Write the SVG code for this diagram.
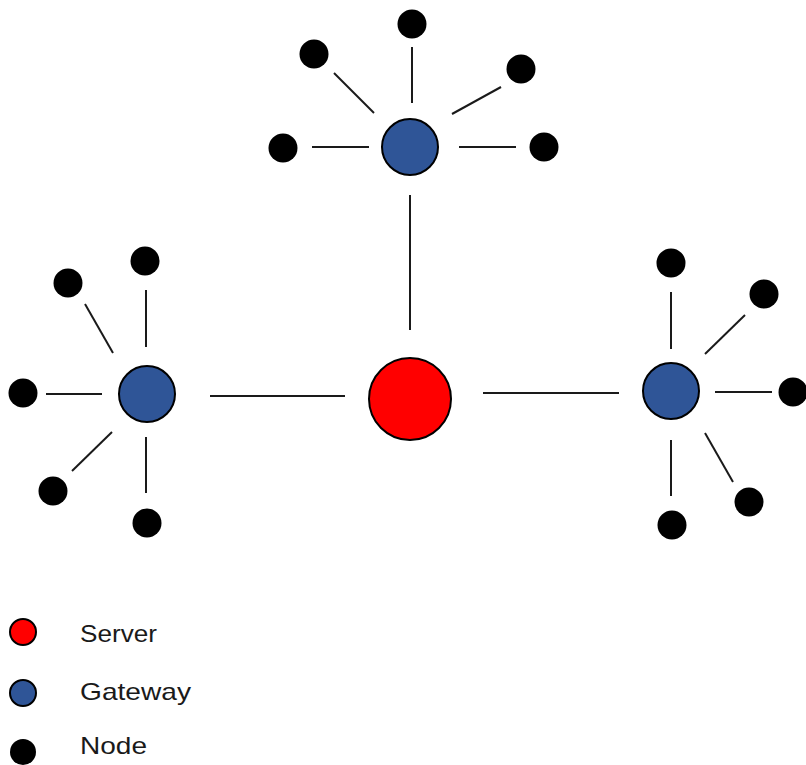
<svg xmlns="http://www.w3.org/2000/svg" width="806" height="765" viewBox="0 0 806 765">
<style>
.ln{stroke:#1a1a1a;stroke-width:2;fill:none}
.srv{fill:#ff0000;stroke:#000;stroke-width:2}
.gw{fill:#2f5597;stroke:#000;stroke-width:2}
.nd{fill:#000}
.lbl{font-family:"Liberation Sans","Open Sans",sans-serif;font-size:24px;fill:#1a1a1a}
</style>
<rect width="806" height="765" fill="#fff"/>
<g id="connectors">
<line class="ln" x1="410" y1="195" x2="410" y2="330"/>
<line class="ln" x1="210" y1="396" x2="345" y2="396"/>
<line class="ln" x1="483" y1="393" x2="619" y2="393"/>
<line class="ln" x1="412" y1="47" x2="412" y2="103"/>
<line class="ln" x1="334" y1="73" x2="374" y2="113"/>
<line class="ln" x1="452" y1="114" x2="501" y2="87"/>
<line class="ln" x1="312" y1="147" x2="369" y2="147"/>
<line class="ln" x1="459" y1="147" x2="516" y2="147"/>
<line class="ln" x1="146" y1="290" x2="146" y2="347"/>
<line class="ln" x1="85" y1="304" x2="113" y2="353"/>
<line class="ln" x1="46" y1="394" x2="102" y2="394"/>
<line class="ln" x1="112" y1="432" x2="72" y2="471"/>
<line class="ln" x1="146" y1="437" x2="146" y2="493"/>
<line class="ln" x1="671" y1="292" x2="671" y2="349"/>
<line class="ln" x1="705" y1="354" x2="745" y2="315"/>
<line class="ln" x1="715" y1="392" x2="772" y2="392"/>
<line class="ln" x1="705" y1="433" x2="733" y2="482"/>
<line class="ln" x1="671" y1="440" x2="671" y2="496"/>
</g>
<g id="server"><circle class="srv" cx="410" cy="399" r="41"/></g>
<g id="gateway-top"><circle class="gw" cx="410" cy="147" r="28"/></g>
<g id="gateway-left"><circle class="gw" cx="147" cy="394" r="28"/></g>
<g id="gateway-right"><circle class="gw" cx="671" cy="391" r="28"/></g>
<g id="node-t1"><circle class="nd" cx="412" cy="24" r="14.5"/></g>
<g id="node-t2"><circle class="nd" cx="314" cy="54" r="14.5"/></g>
<g id="node-t3"><circle class="nd" cx="521" cy="69" r="14.5"/></g>
<g id="node-t4"><circle class="nd" cx="283" cy="148" r="14.5"/></g>
<g id="node-t5"><circle class="nd" cx="544" cy="147" r="14.5"/></g>
<g id="node-l1"><circle class="nd" cx="145" cy="261" r="14.5"/></g>
<g id="node-l2"><circle class="nd" cx="68" cy="283" r="14.5"/></g>
<g id="node-l3"><circle class="nd" cx="23" cy="393" r="14.5"/></g>
<g id="node-l4"><circle class="nd" cx="53" cy="491" r="14.5"/></g>
<g id="node-l5"><circle class="nd" cx="147" cy="523" r="14.5"/></g>
<g id="node-r1"><circle class="nd" cx="671" cy="263" r="14.5"/></g>
<g id="node-r2"><circle class="nd" cx="764" cy="294" r="14.5"/></g>
<g id="node-r3"><circle class="nd" cx="793" cy="392" r="14.5"/></g>
<g id="node-r4"><circle class="nd" cx="749" cy="502" r="14.5"/></g>
<g id="node-r5"><circle class="nd" cx="672" cy="525" r="14.5"/></g>
<g id="legend-server"><circle class="srv" cx="23" cy="632" r="13" stroke-width="1.5"/><text class="lbl" x="80" y="642" textLength="77" lengthAdjust="spacingAndGlyphs">Server</text></g>
<g id="legend-gateway"><circle class="gw" cx="23" cy="693" r="13" stroke-width="1.5"/><text class="lbl" x="80" y="700" textLength="111" lengthAdjust="spacingAndGlyphs">Gateway</text></g>
<g id="legend-node"><circle class="nd" cx="23" cy="752" r="13"/><text class="lbl" x="80" y="754" textLength="67" lengthAdjust="spacingAndGlyphs">Node</text></g>
</svg>
